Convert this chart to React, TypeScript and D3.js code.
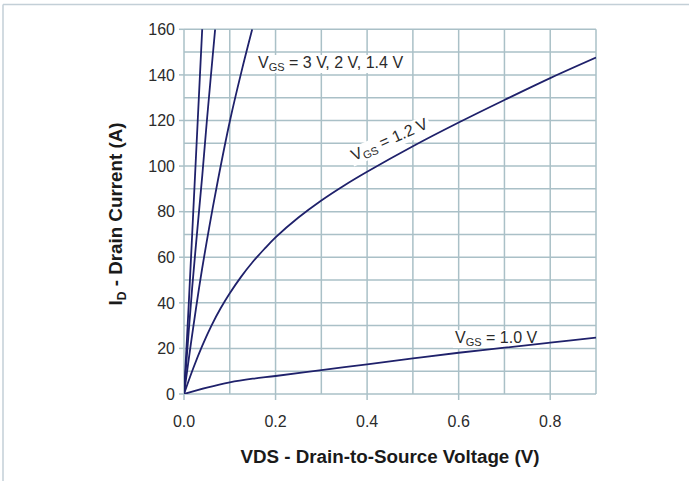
import React, { useEffect, useRef } from "react";
import * as d3 from "d3";

// ---- Data ----
const xTicks = [0, 0.2, 0.4, 0.6, 0.8];
const xTickLabels = ["0.0", "0.2", "0.4", "0.6", "0.8"];
const yTicks = [0, 20, 40, 60, 80, 100, 120, 140, 160];
const xGrid = [0, 0.1, 0.2, 0.3, 0.4, 0.5, 0.6, 0.7, 0.8, 0.9];
const yGrid = [0, 10, 20, 30, 40, 50, 60, 70, 80, 90, 100, 110, 120, 130, 140, 150, 160];

const vds3V = [0, 0.01, 0.02, 0.03, 0.04];
const id3V = [0, 38, 79, 120, 161];

const vds2V = [0, 0.018, 0.04, 0.05, 0.068];
const id2V = [0, 47, 96, 120, 160];

const vds14V = [0, 0.015, 0.0356, 0.055, 0.0743, 0.1005, 0.125, 0.149];
const id14V = [0, 22, 50, 73, 94, 120, 141, 160];

const vds12V = [0, 0.02, 0.04, 0.06, 0.08, 0.1, 0.125, 0.15, 0.175, 0.2, 0.25, 0.3, 0.35, 0.4, 0.5, 0.6, 0.7, 0.8, 0.9];
const id12V = [0, 11.2, 21.2, 30, 37.6, 44.2, 51.5, 57.9, 63.5, 68.7, 77.4, 84.9, 91.5, 97.5, 108.7, 119.1, 129, 138.6, 147.6];

const vds10V = [0, 0.05, 0.1, 0.15, 0.2, 0.3, 0.4, 0.5, 0.6, 0.7, 0.8, 0.9];
const id10V = [0, 2.8, 5.1, 6.7, 7.9, 10.5, 13, 15.6, 18.1, 20.3, 22.5, 24.7];

const series = [
  { v: vds3V, i: id3V },
  { v: vds2V, i: id2V },
  { v: vds14V, i: id14V },
  { v: vds12V, i: id12V },
  { v: vds10V, i: id10V },
];

const W = 689;
const H = 481;
const FONT = "Arial, 'Liberation Sans', Helvetica, sans-serif";
const GRID = "#aac0c7";
const LINE = "#1f216b";
const TEXT = "#2b2b2b";

export default function App() {
  const ref = useRef<SVGSVGElement | null>(null);

  useEffect(() => {
    const svg = d3.select(ref.current);
    svg.selectAll("*").remove();

    const x = d3.scaleLinear().domain([0, 0.9]).range([184, 596]);
    const y = d3.scaleLinear().domain([0, 160]).range([394, 29.3]);

    // frame
    svg.append("line").attr("x1", 3).attr("x2", W).attr("y1", 4.5).attr("y2", 4.5)
      .attr("stroke", "#c3cfd7").attr("stroke-width", 1.5);
    svg.append("line").attr("x1", 3).attr("x2", 3).attr("y1", 4.5).attr("y2", H)
      .attr("stroke", "#c3cfd7").attr("stroke-width", 1.5);

    svg.append("defs").append("clipPath").attr("id", "plotclip")
      .append("rect").attr("x", x(0)).attr("y", y(160))
      .attr("width", x(0.9) - x(0)).attr("height", y(0) - y(160));

    const g = svg.append("g");
    // grid
    g.selectAll("line.vg").data(xGrid).enter().append("line")
      .attr("x1", (d) => x(d)).attr("x2", (d) => x(d))
      .attr("y1", y(0)).attr("y2", y(160))
      .attr("stroke", GRID).attr("stroke-width", 1.5);
    g.selectAll("line.hg").data(yGrid).enter().append("line")
      .attr("x1", x(0)).attr("x2", x(0.9))
      .attr("y1", (d) => y(d)).attr("y2", (d) => y(d))
      .attr("stroke", GRID).attr("stroke-width", 1.5);
    // outer ticks
    g.selectAll("line.xt").data(xTicks).enter().append("line")
      .attr("x1", (d) => x(d)).attr("x2", (d) => x(d))
      .attr("y1", y(0)).attr("y2", y(0) + 6)
      .attr("stroke", GRID).attr("stroke-width", 1.5);
    g.selectAll("line.yt").data(yTicks).enter().append("line")
      .attr("x1", x(0) - 5).attr("x2", x(0))
      .attr("y1", (d) => y(d)).attr("y2", (d) => y(d))
      .attr("stroke", GRID).attr("stroke-width", 1.5);

    // tick labels
    g.selectAll("text.xl").data(xTicks).enter().append("text")
      .attr("x", (d) => x(d)).attr("y", 427)
      .attr("text-anchor", "middle").attr("font-family", FONT).attr("font-size", 16)
      .attr("fill", TEXT).text((d, k) => xTickLabels[k]);
    g.selectAll("text.yl").data(yTicks).enter().append("text")
      .attr("x", 175).attr("y", (d) => y(d) + 5.8)
      .attr("text-anchor", "end").attr("font-family", FONT).attr("font-size", 16)
      .attr("fill", TEXT).text((d) => String(d));

    // labels with white backgrounds (drawn under the curves)
    const addLabel = (tx: number, ty: number, rot: number, rest: string) => {
      const lg = g.append("g").attr("transform", `translate(${tx},${ty}) rotate(${rot})`);
      const bg = lg.append("rect").attr("fill", "#fff");
      const t = lg.append("text").attr("x", 0).attr("y", 0)
        .attr("font-family", FONT).attr("font-size", 16).attr("fill", TEXT);
      t.append("tspan").text("V");
      t.append("tspan").attr("font-size", 11).attr("dy", 3).text("GS");
      t.append("tspan").attr("dy", -3).text(rest);
      const bb = (t.node() as SVGTextElement).getBBox();
      bg.attr("x", bb.x - 2).attr("y", bb.y + 1).attr("width", bb.width + 4).attr("height", bb.height - 1);
    };
    addLabel(258, 68, 0, " = 3 V, 2 V, 1.4 V");
    addLabel(354, 161, -24, " = 1.2 V");
    addLabel(455, 343, 0, " = 1.0 V");

    // curves
    const line = d3.line<[number, number]>()
      .x((d) => x(d[0])).y((d) => y(d[1]))
      .curve(d3.curveCatmullRom.alpha(0.5));
    const cg = g.append("g").attr("clip-path", "url(#plotclip)");
    series.forEach((s) => {
      const pts: [number, number][] = s.v.map((v, k) => [v, s.i[k]]);
      cg.append("path").attr("d", line(pts) as string)
        .attr("fill", "none").attr("stroke", LINE).attr("stroke-width", 1.8)
        .attr("stroke-linejoin", "round");
    });

    // axis titles
    g.append("text").attr("x", 390).attr("y", 463)
      .attr("text-anchor", "middle").attr("font-family", FONT).attr("font-size", 18.8)
      .attr("font-weight", "bold").attr("fill", "#1a1a1a")
      .text("VDS - Drain-to-Source Voltage (V)");
    const yt = g.append("text").attr("transform", "translate(122,214) rotate(-90)")
      .attr("text-anchor", "middle").attr("font-family", FONT).attr("font-size", 18.8)
      .attr("font-weight", "bold").attr("fill", "#1a1a1a");
    yt.append("tspan").text("I");
    yt.append("tspan").attr("font-size", 12).attr("dy", 4).text("D");
    yt.append("tspan").attr("dy", -4).text(" - Drain Current (A)");
  }, []);

  return (
    <svg
      ref={ref}
      width={W}
      height={H}
      style={{ position: "absolute", left: 0, top: 0, background: "#fff" }}
    />
  );
}
